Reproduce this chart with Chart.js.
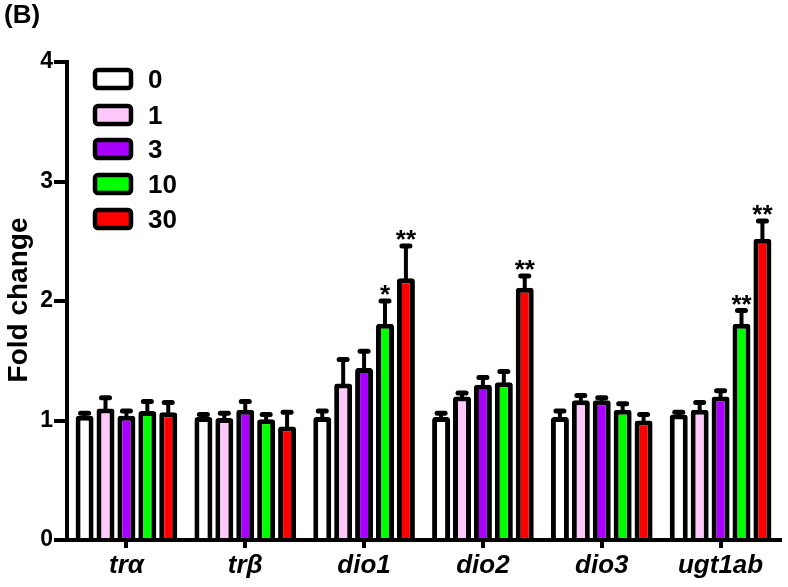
<!DOCTYPE html>
<html>
<head>
<meta charset="utf-8">
<script src="https://cdn.jsdelivr.net/npm/chart.js@4.4.1/dist/chart.umd.min.js"></script>
<style>
  html, body { margin: 0; padding: 0; background: #fff; }
  #wrap { width: 788px; height: 587px; position: relative; }
</style>
</head>
<body>
<div id="wrap"><canvas id="chart"></canvas></div>
<script>
// genes on the x axis
const genes = ['trα', 'trβ', 'dio1', 'dio2', 'dio3', 'ugt1ab'];
const doses = ['0', '1', '3', '10', '30'];

// mean fold change per dose
const dose0 = [1.04, 1.03, 1.03, 1.03, 1.03, 1.05];
const dose1 = [1.10, 1.02, 1.31, 1.20, 1.17, 1.09];
const dose3 = [1.04, 1.09, 1.44, 1.30, 1.17, 1.20];
const dose10 = [1.08, 1.01, 1.81, 1.32, 1.09, 1.81];
const dose30 = [1.07, 0.95, 2.19, 2.11, 1.00, 2.52];

// upper error (SEM)
const sem0 = [0.02, 0.02, 0.05, 0.03, 0.05, 0.02];
const sem1 = [0.09, 0.04, 0.20, 0.03, 0.04, 0.06];
const sem3 = [0.04, 0.07, 0.14, 0.06, 0.02, 0.05];
const sem10 = [0.08, 0.04, 0.19, 0.09, 0.05, 0.11];
const sem30 = [0.08, 0.12, 0.27, 0.10, 0.05, 0.15];

// significance marks
const sig10 = ['', '', '*', '', '', '**'];
const sig30 = ['', '', '**', '**', '', '**'];
const sigNone = ['', '', '', '', '', ''];

const yTicks = [0, 1, 2, 3, 4];

const colors = ['#ffffff', '#ffc8fa', '#aa00ff', '#00ff00', '#ff0000'];
const FONT = "'Liberation Sans', Arial, sans-serif";

const series = [
  { data: dose0, sem: sem0, sig: sigNone },
  { data: dose1, sem: sem1, sig: sigNone },
  { data: dose3, sem: sem3, sig: sigNone },
  { data: dose10, sem: sem10, sig: sig10 },
  { data: dose30, sem: sem30, sig: sig30 }
];

// error bars + asterisks
const errorBars = {
  id: 'errorBars',
  afterDatasetsDraw(chart) {
    const { ctx } = chart;
    const y = chart.scales.y;
    ctx.save();
    chart.data.datasets.forEach((ds, i) => {
      const meta = chart.getDatasetMeta(i);
      meta.data.forEach((bar, j) => {
        const top = y.getPixelForValue(ds.data[j]);
        const cap = y.getPixelForValue(ds.data[j] + ds.sem[j]);
        ctx.strokeStyle = '#000';
        ctx.lineWidth = 4;
        ctx.lineCap = 'butt';
        ctx.beginPath();
        ctx.moveTo(bar.x, top + 2);
        ctx.lineTo(bar.x, cap);
        ctx.stroke();
        ctx.lineWidth = 5;
        ctx.lineCap = 'round';
        ctx.beginPath();
        ctx.moveTo(bar.x - 4, cap);
        ctx.lineTo(bar.x + 4, cap);
        ctx.stroke();
        if (ds.sig[j]) {
          ctx.fillStyle = '#000';
          ctx.font = 'bold 26px ' + FONT;
          ctx.textAlign = 'center';
          ctx.textBaseline = 'alphabetic';
          ctx.fillText(ds.sig[j], bar.x, cap + 2);
        }
      });
    });
    ctx.restore();
  }
};

// legend, panel letter and y title
const decorations = {
  id: 'decorations',
  afterDraw(chart) {
    const { ctx } = chart;
    ctx.save();
    ctx.fillStyle = '#000';
    ctx.font = 'bold 26px ' + FONT;
    ctx.textAlign = 'left';
    ctx.textBaseline = 'middle';
    ctx.fillText('(B)', 4, 16);

    ctx.save();
    ctx.translate(19, 300);
    ctx.rotate(-Math.PI / 2);
    ctx.textAlign = 'center';
    ctx.font = 'bold 28px ' + FONT;
    ctx.fillText('Fold change', 0, 0);
    ctx.restore();

    const rows = [79, 115, 149, 184, 219];
    doses.forEach((d, i) => {
      const cy = rows[i];
      ctx.beginPath();
      ctx.roundRect(95, cy - 9, 36, 18, 3);
      ctx.fillStyle = colors[i];
      ctx.fill();
      ctx.lineWidth = 4.5;
      ctx.strokeStyle = '#000';
      ctx.stroke();
      ctx.fillStyle = '#000';
      ctx.font = 'bold 26px ' + FONT;
      ctx.textAlign = 'left';
      ctx.fillText(d, 148, cy + 2);
    });
    ctx.restore();
  }
};

new Chart(document.getElementById('chart'), {
  type: 'bar',
  data: {
    labels: genes,
    datasets: series.map((s, i) => ({
      label: doses[i],
      data: s.data,
      sem: s.sem,
      sig: s.sig,
      backgroundColor: colors[i],
      borderColor: '#000',
      borderWidth: 5,
      borderSkipped: 'bottom',
      borderRadius: { topLeft: 3, topRight: 3 },
      categoryPercentage: 0.88,
      barPercentage: 0.86
    }))
  },
  options: {
    responsive: true,
    maintainAspectRatio: false,
    animation: false,
    layout: { padding: { top: 62, right: 8, left: 0, bottom: 0 } },
    plugins: {
      legend: { display: false },
      tooltip: { enabled: false }
    },
    scales: {
      x: {
        grid: { display: true, drawOnChartArea: false, offset: false, color: '#000', lineWidth: 4, tickLength: 8 },
        border: { display: true, color: '#000', width: 4 },
        ticks: { color: '#000', padding: 2, font: { family: FONT, size: 26, weight: 'bold', style: 'italic' } },
        afterFit(scale) { scale.height = 47; }
      },
      y: {
        min: 0,
        max: 4,
        afterBuildTicks(scale) { scale.ticks = yTicks.map(v => ({ value: v })); },
        grid: { display: true, drawOnChartArea: false, color: '#000', lineWidth: 4, tickLength: 13 },
        border: { display: true, color: '#000', width: 4 },
        ticks: { color: '#000', padding: 1, font: { family: FONT, size: 23, weight: 'bold' } },
        afterFit(scale) { scale.width = 67; }
      }
    }
  },
  plugins: [errorBars, decorations]
});
</script>
</body>
</html>
